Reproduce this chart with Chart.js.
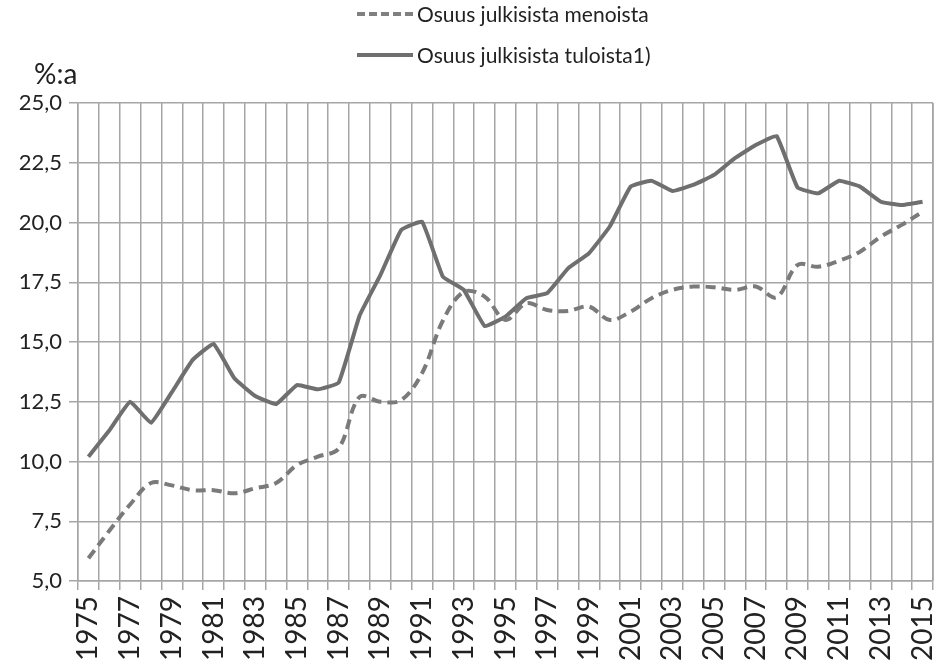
<!DOCTYPE html>
<html>
<head>
<meta charset="utf-8">
<script src="https://cdn.jsdelivr.net/npm/chart.js@4"></script>
<style>
  body { margin: 0; background: #fff; }
  #wrap { position: relative; width: 938px; height: 665px; font-family: Lato, "Liberation Sans", sans-serif; color: #222; }
  canvas { position: absolute; left: 0; top: 0; }
  .leg { position: absolute; left: 357px; font-size: 21px; line-height: 26px; display: flex; align-items: center; white-space: nowrap; }
  .leg span.sample { display: inline-block; width: 56px; height: 0; margin-right: 4px; border-top: 4px solid #6f6f6f; }
  .leg span.dash { border-top: 4px dashed #808080; }
  #unit { position: absolute; left: 34px; top: 56px; font-size: 28px; }
</style>
</head>
<body>
<div id="wrap">
  <canvas id="chart" width="938" height="665"></canvas>
  <div class="leg" style="top:1px"><span class="sample dash"></span>Osuus julkisista menoista</div>
  <div class="leg" style="top:42px"><span class="sample"></span>Osuus julkisista tuloista1)</div>
  <div id="unit">%:a</div>
</div>
<script>
const years = [];
for (let y = 1975; y <= 2015; y++) years.push(String(y));

// Osuus julkisista menoista (dashed)
const menoista = [5.95, 7.1, 8.2, 9.1, 9.0, 8.8, 8.8, 8.67, 8.88, 9.1, 9.85, 10.2, 10.55, 12.7,
  12.5, 12.57, 13.7, 15.9, 17.1, 16.9, 15.92, 16.62, 16.34, 16.3, 16.48, 15.92, 16.27, 16.83,
  17.18, 17.32, 17.29, 17.18, 17.32, 16.87, 18.22, 18.15, 18.4, 18.78, 19.41, 19.9, 20.45];

// Osuus julkisista tuloista1) (solid)
const tuloista = [10.2, 11.3, 12.5, 11.62, 12.9, 14.25, 14.92, 13.48, 12.74, 12.4, 13.2, 13.02,
  13.3, 16.1, 17.8, 19.69, 20.03, 17.73, 17.18, 15.67, 16.06, 16.83, 17.04, 18.08, 18.71, 19.83,
  21.5, 21.75, 21.32, 21.57, 21.99, 22.69, 23.24, 23.62, 21.47, 21.22, 21.75, 21.5, 20.87, 20.73, 20.87];

const yMin = 5, yMax = 25, yStep = 2.5;

const ctx = document.getElementById("chart").getContext("2d");
const chart = new Chart(ctx, {
  type: "line",
  data: {
    labels: years,
    datasets: [{
      label: "Osuus julkisista menoista",
      data: menoista,
      borderColor: "#7a7a7a",
      borderWidth: 4,
      borderDash: [10, 6],
      tension: 0.35,
      pointRadius: 0,
      fill: false
    }, {
      label: "Osuus julkisista tuloista1)",
      data: tuloista,
      borderColor: "#6f6f6f",
      borderWidth: 4,
      tension: 0.1,
      pointRadius: 0,
      fill: false
    }]
  },
  options: {
    responsive: false,
    animation: false,
    layout: { padding: { top: 103, right: 5, left: 0, bottom: 0 } },
    plugins: { legend: { display: false }, tooltip: { enabled: false } },
    scales: {
      x: {
        offset: true,
        grid: { offset: true, color: "#a6a6a6", lineWidth: 1.5, tickLength: 9 },
        border: { color: "#a6a6a6", width: 1.5 },
        ticks: {
          autoSkip: false,
          maxRotation: 90,
          minRotation: 90,
          color: "#222",
          padding: 6,
          font: { family: "Lato", size: 28 },
          callback: function (val, i) { return i % 2 === 0 ? this.getLabelForValue(val) : ""; }
        },
        afterFit: (s) => { s.height = 84; s.paddingLeft = 0; s.paddingRight = 0; }
      },
      y: {
        min: yMin,
        max: yMax,
        grid: { color: "#a6a6a6", lineWidth: 1.5, tickLength: 9 },
        border: { color: "#a6a6a6", width: 1.5 },
        ticks: {
          stepSize: yStep,
          color: "#222",
          padding: 7,
          font: { family: "Lato", size: 22 },
          callback: (v) => v.toFixed(1).replace(".", ",")
        },
        afterFit: (s) => { s.width = 78; s.paddingTop = 0; s.paddingBottom = 0; }
      }
    }
  },
  plugins: [{
    id: "rightBorder",
    afterDraw(c) {
      const a = c.chartArea, g = c.ctx;
      g.save();
      g.strokeStyle = "#a6a6a6";
      g.lineWidth = 1.5;
      g.beginPath();
      g.moveTo(a.right, a.top);
      g.lineTo(a.right, a.bottom);
      g.stroke();
      g.restore();
    }
  }]
});
</script>
</body>
</html>
